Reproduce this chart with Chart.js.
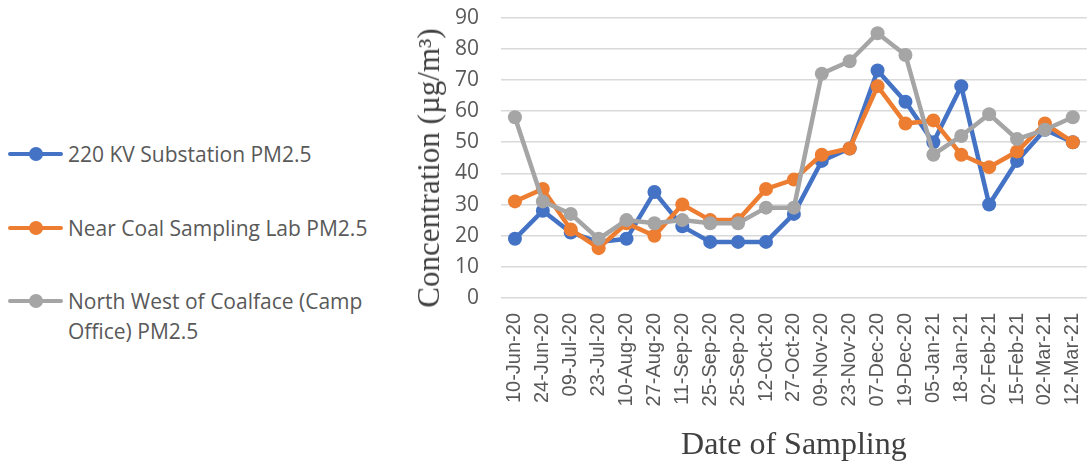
<!DOCTYPE html>
<html>
<head>
<meta charset="utf-8">
<script src="https://cdn.jsdelivr.net/npm/chart.js@4"></script>
<style>
  html, body { margin: 0; padding: 0; background: #fff; }
  #wrap { position: relative; width: 1087px; height: 465px; overflow: hidden; }
  #chartBox { position: absolute; left: 390px; top: -17px; width: 714px; height: 482px; }
  .leg { position: absolute; left: 8px; font-family: "Open Sans", sans-serif; font-size: 21px; color: #595959; line-height: 30px; }
  .leg .sym { position: absolute; left: 0; width: 55px; height: 4px; border-radius: 2px; top: 13px; }
  .leg .sym i { position: absolute; left: 21px; top: -5px; width: 14px; height: 14px; border-radius: 50%; }
  .leg .txt { position: absolute; left: 60px; top: 0; white-space: nowrap; }
  #ytitle { position: absolute; left: 429px; top: 168px; transform: translate(-50%, -50%) rotate(-90deg);
            font-family: "Liberation Serif", "Times New Roman", serif; font-size: 31px; color: #404040; white-space: nowrap; }
</style>
</head>
<body>
<div id="wrap">
  <div id="legend"></div>
  <div id="chartBox"><canvas id="c" width="714" height="482"></canvas></div>
  <div id="ytitle"></div>
</div>
<script>
const categories = ["10-Jun-20","24-Jun-20","09-Jul-20","23-Jul-20","10-Aug-20","27-Aug-20","11-Sep-20","25-Sep-20","25-Sep-20","12-Oct-20","27-Oct-20","09-Nov-20","23-Nov-20","07-Dec-20","19-Dec-20","05-Jan-21","18-Jan-21","02-Feb-21","15-Feb-21","02-Mar-21","12-Mar-21"];
const substation220KV = [19,28,21,18,19,34,23,18,18,18,27,44,48,73,63,50,68,30,44,54,50];
const nearCoalLab     = [31,35,22,16,24,20,30,25,25,35,38,46,48,68,56,57,46,42,47,56,50];
const northWestCamp   = [58,31,27,19,25,24,25,24,24,29,29,72,76,85,78,46,52,59,51,54,58];
const seriesNames = ["220 KV Substation PM2.5","Near Coal Sampling Lab PM2.5","North West of Coalface (Camp Office) PM2.5"];
const seriesColors = ["#4472C4","#ED7D31","#A5A5A5"];
const yTicks = [0,10,20,30,40,50,60,70,80,90];
const yTitle = "Concentration (µg/m³)";
const xTitle = "Date of Sampling";

document.getElementById('ytitle').textContent = yTitle;

// HTML legend
const legendTop = [139, 213, 286];
const legendLines = [["220 KV Substation PM2.5"],["Near Coal Sampling Lab PM2.5"],["North West of Coalface (Camp","Office) PM2.5"]];
const legEl = document.getElementById('legend');
legendLines.forEach((lines, i) => {
  const d = document.createElement('div');
  d.className = 'leg';
  d.style.top = legendTop[i] + 'px';
  d.innerHTML = '<span class="sym" style="background:' + seriesColors[i] + '"><i style="background:' + seriesColors[i] + '"></i></span>' +
    '<span class="txt">' + lines.join('<br>') + '</span>';
  legEl.appendChild(d);
});

const allData = [substation220KV, nearCoalLab, northWestCamp];
new Chart(document.getElementById('c'), {
  type: 'line',
  data: {
    labels: categories,
    datasets: allData.map((d, i) => ({
      label: seriesNames[i],
      data: d,
      borderColor: seriesColors[i],
      backgroundColor: seriesColors[i],
      borderWidth: 4.5,
      pointRadius: 7,
      pointBorderWidth: 0,
      pointBackgroundColor: seriesColors[i],
      tension: 0,
      order: 2 - i
    }))
  },
  options: {
    responsive: false,
    animation: false,
    events: [],
    layout: { padding: { top: 0, right: 0, left: 0, bottom: 0 } },
    plugins: { legend: { display: false }, tooltip: { enabled: false } },
    scales: {
      x: {
        offset: true,
        grid: { display: false },
        border: { display: false },
        ticks: {
          autoSkip: false, maxRotation: 90, minRotation: 90, padding: 7,
          color: '#595959',
          font: { family: '"Liberation Sans", Arial, sans-serif', size: 20 }
        },
        title: {
          display: true, text: xTitle, color: '#404040',
          font: { family: '"Liberation Serif", "Times New Roman", serif', size: 32 },
          padding: { top: 8, bottom: 0 }
        },
        afterFit: s => { s.height = 167; }
      },
      y: {
        min: 0, max: 90,
        afterBuildTicks: s => { s.ticks = yTicks.map(v => ({ value: v })); },
        grid: { color: '#D9D9D9', lineWidth: 1.5, drawTicks: false },
        border: { display: false },
        ticks: {
          padding: 22, color: '#595959',
          font: { family: '"Open Sans", sans-serif', size: 21 }
        },
        title: { display: false },
        afterFit: s => { s.width = 111; }
      }
    }
  }
});
</script>
</body>
</html>
